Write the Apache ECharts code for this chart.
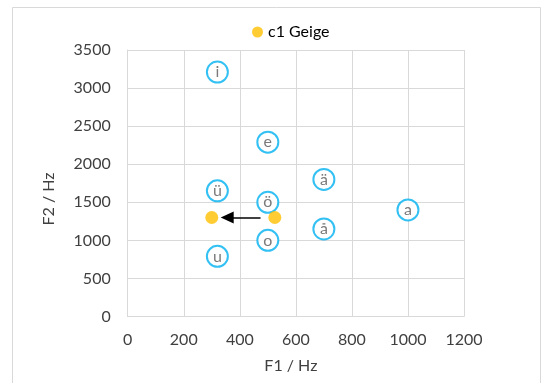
<!DOCTYPE html>
<html>
<head>
<meta charset="utf-8">
<script src="https://cdn.jsdelivr.net/npm/echarts@6/dist/echarts.min.js"></script>
<style>
html,body{margin:0;padding:0;background:#fff;}
#c{width:541px;height:383px;}
</style>
</head>
<body>
<div id="c"></div>
<script>
var vowelLabels = ['i', 'e', 'ä', 'ü', 'ö', 'a', 'å', 'o', 'u'];
var vowelF1 = [320, 500, 700, 320, 500, 1000, 700, 500, 320];
var vowelF2 = [3210, 2290, 1800, 1650, 1500, 1400, 1150, 1000, 790];
var geigeF1 = [300, 525];
var geigeF2 = [1300, 1300];
var arrowFrom = [474, 1300];
var arrowTo = [355, 1300];
var xTicks = [0, 200, 400, 600, 800, 1000, 1200];
var yTicks = [0, 500, 1000, 1500, 2000, 2500, 3000, 3500];
var xTitle = 'F1 / Hz';
var yTitle = 'F2 / Hz';
var legendName = 'c1 Geige';

var font = 'Lato';
var fs = 16;
var chart = echarts.init(document.getElementById('c'), null, {renderer: 'canvas'});
var vowelData = vowelLabels.map(function (l, i) { return {value: [vowelF1[i], vowelF2[i]], name: l}; });
var geigeData = geigeF1.map(function (v, i) { return [v, geigeF2[i]]; });

chart.setOption({
  animation: false,
  backgroundColor: '#fff',
  graphic: [{
    type: 'rect', shape: {x: 12.5, y: 7.5, width: 528, height: 400},
    style: {fill: 'none', stroke: '#d9d9d9', lineWidth: 1}, silent: true, z: -1
  }, {
    type: 'text', x: 49, y: 199, rotation: Math.PI / 2, silent: true,
    style: {text: yTitle, fontFamily: font, fontSize: fs, fill: '#404040', align: 'center', verticalAlign: 'middle'}
  }],
  legend: {
    data: [legendName], top: 19, left: 247, padding: 5, itemWidth: 11, itemHeight: 11, itemGap: 5,
    icon: 'circle', textStyle: {fontFamily: font, fontSize: fs, color: '#000'}
  },
  grid: {left: 127.7, right: 77, top: 50, bottom: 66.5, containLabel: false},
  xAxis: {
    type: 'value', min: 0, max: 1200, interval: 200,
    name: xTitle, nameLocation: 'middle', nameGap: 41,
    nameTextStyle: {fontFamily: font, fontSize: fs, color: '#404040', padding: [0, 10, 0, 0]},
    axisLine: {show: true, lineStyle: {color: '#d9d9d9', width: 1}},
    axisTick: {show: false},
    axisLabel: {fontFamily: font, fontSize: fs, color: '#404040', margin: 15,
      formatter: function (v) { return xTicks.indexOf(v) >= 0 ? String(v) : ''; }},
    splitLine: {show: true, lineStyle: {color: '#d9d9d9', width: 1}}
  },
  yAxis: {
    type: 'value', min: 0, max: 3500, interval: 500,
    axisLine: {show: true, lineStyle: {color: '#d9d9d9', width: 1}},
    axisTick: {show: false},
    axisLabel: {fontFamily: font, fontSize: fs, color: '#404040', margin: 17,
      formatter: function (v) { return yTicks.indexOf(v) >= 0 ? String(v) : ''; }},
    splitLine: {show: true, lineStyle: {color: '#d9d9d9', width: 1}}
  },
  series: [
    {
      name: 'Vokale', type: 'scatter', data: vowelData, symbol: 'circle', symbolSize: 21,
      itemStyle: {color: '#fff', borderColor: '#00B0F0', borderWidth: 2},
      label: {show: true, position: 'inside', formatter: '{b}', fontFamily: font, fontSize: fs, color: '#595959'},
      z: 3
    },
    {
      name: legendName, type: 'scatter', data: geigeData, symbol: 'circle', symbolSize: 13,
      itemStyle: {color: '#FFC000'}, z: 4,
      markLine: {
        silent: true, animation: false,
        symbol: ['none', 'triangle'], symbolSize: [12, 13],
        lineStyle: {color: '#000', width: 1.5, type: 'solid'},
        label: {show: false},
        data: [[{coord: arrowFrom}, {coord: arrowTo}]]
      }
    }
  ]
});
</script>
</body>
</html>
